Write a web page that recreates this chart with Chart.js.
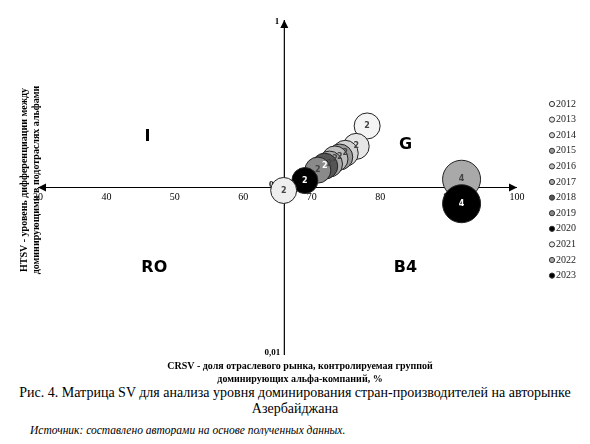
<!DOCTYPE html>
<html><head><meta charset="utf-8">
<script src="https://cdn.jsdelivr.net/npm/chart.js@4"></script>
<style>
body{margin:0;background:#fff;font-family:"Liberation Serif",serif;width:590px}
#wrap{width:590px;height:385px;position:relative}
.cap{text-align:center;font-size:14px;line-height:16px;margin-top:0}
.src{font-style:italic;font-size:11.5px;margin:7px 0 0 30px}
</style></head><body>
<div id="wrap"><canvas id="c" width="590" height="385"></canvas></div>
<div class="cap">Рис. 4. Матрица SV для анализа уровня доминирования стран-производителей на авторынке<br>Азербайджана</div>
<div class="src">Источник: составлено авторами на основе полученных данных.</div>
<script>
const years = ['2012','2013','2014','2015','2016','2017','2018','2019','2020','2021','2022','2023'];
const crsv = [78.1, 76.5, 74.9, 74.1, 73.4, 72.6, 71.9, 70.9, 69.0, 65.9, 91.9, 91.9];
const htsv = [0.233, 0.176, 0.16, 0.152, 0.148, 0.138, 0.134, 0.127, 0.11, 0.096, 0.112, 0.08];
const radius = [13, 13, 13, 13, 13, 13, 13, 13, 13, 13, 19, 19];
const labels = ['2', '2', '2', '2', '2', '2', '2', '2', '2', '2', '4', '4'];
const fills = ['#f4f4f4','#e6e6e6','#d2d2d2','#9a9a9a','#bdbdbd','#a8a8a8','#555','#8a8a8a','#000','#eeeeee','#a9a9a9','#000'];
const xTicks = [30, 40, 50, 60, 70, 80, 90, 100];
const quadrants = [['I', 46, 0.2], ['G', 83.7, 0.18], ['RO', 47, 0.033], ['B4', 83.7, 0.033]];
const crossX = 66, crossY = 0.1;

const axesPlugin = {
  id: 'axes',
  beforeDatasetsDraw(chart) {
    const ctx = chart.ctx, xs = chart.scales.x, ys = chart.scales.y;
    const cx = xs.getPixelForValue(crossX), cy = ys.getPixelForValue(crossY);
    ctx.save();
    ctx.strokeStyle = '#000'; ctx.fillStyle = '#000'; ctx.lineWidth = 1.2;
    ctx.beginPath();
    ctx.moveTo(xs.left, cy); ctx.lineTo(xs.right, cy);
    ctx.moveTo(cx, ys.top); ctx.lineTo(cx, ys.bottom);
    ctx.stroke();
    const arrow = (x, y, dx, dy) => {
      ctx.beginPath(); ctx.moveTo(x, y);
      ctx.lineTo(x - dx * 8 - dy * 4, y - dy * 8 - dx * 4);
      ctx.lineTo(x - dx * 8 + dy * 4, y - dy * 8 + dx * 4);
      ctx.closePath(); ctx.fill();
    };
    arrow(xs.right, cy, 1, 0); arrow(xs.left, cy, -1, 0); arrow(cx, ys.top, 0, -1);
    ctx.font = '10px "Liberation Serif"'; ctx.textAlign = 'center'; ctx.textBaseline = 'top';
    xTicks.forEach(t => ctx.fillText(String(t), xs.getPixelForValue(t), cy + 5));
    ctx.font = 'bold 9px "Liberation Serif"';
    ctx.textAlign = 'right'; ctx.textBaseline = 'middle';
    ctx.fillText('1', cx - 5, ys.top + 2);
    ctx.fillText('0,1', cx - 4, cy - 3);
    ctx.fillText('0,01', cx - 4, ys.bottom - 2);
    ctx.font = 'bold 16px "DejaVu Sans"'; ctx.textAlign = 'center';
    quadrants.forEach(q => ctx.fillText(q[0], xs.getPixelForValue(q[1]), ys.getPixelForValue(q[2])));
    ctx.font = 'bold 10px "Liberation Serif"';
    ctx.fillText('CRSV - доля отраслевого рынка, контролируемая группой', 300, 366);
    ctx.fillText('доминирующих альфа-компаний, %', 300, 379);
    ctx.translate(30, 180); ctx.rotate(-Math.PI / 2);
    ctx.fillText('HTSV - уровень дифференциации между', 0, -6);
    ctx.fillText('доминирующими в подотраслях альфами', 0, 6);
    ctx.restore();
  },
  afterDatasetsDraw(chart) {
    const ctx = chart.ctx, meta = chart.getDatasetMeta(0);
    ctx.save();
    ctx.font = 'bold 8px "DejaVu Sans"'; ctx.textAlign = 'center'; ctx.textBaseline = 'middle';
    meta.data.forEach((p, i) => {
      const dark = ['#000', '#555'].includes(fills[i]);
      ctx.fillStyle = dark ? '#fff' : '#444';
      ctx.fillText(labels[i], p.x, p.y);
    });
    ctx.font = '10px "Liberation Serif"'; ctx.textAlign = 'left';
    years.forEach((y, i) => {
      const ly = 104 + i * 15.6;
      ctx.beginPath(); ctx.arc(552, ly, 2.6, 0, Math.PI * 2);
      ctx.fillStyle = fills[i]; ctx.fill();
      ctx.strokeStyle = '#333'; ctx.lineWidth = 1; ctx.stroke();
      ctx.fillStyle = '#222'; ctx.fillText(y, 556, ly);
    });
    ctx.restore();
  }
};

new Chart(document.getElementById('c'), {
  type: 'bubble',
  data: {
    datasets: [{
      data: crsv.map((x, i) => ({ x: x, y: htsv[i], r: radius[i] })),
      backgroundColor: fills,
      borderColor: '#222',
      borderWidth: 1
    }]
  },
  options: {
    responsive: false, animation: false,
    layout: { padding: { left: 38, right: 73, top: -2, bottom: 30 } },
    plugins: { legend: { display: false }, tooltip: { enabled: false } },
    scales: {
      x: { type: 'linear', min: 30, max: 100, display: false },
      y: { type: 'logarithmic', min: 0.01, max: 1, display: false }
    }
  },
  plugins: [axesPlugin]
});
</script>
</body></html>
